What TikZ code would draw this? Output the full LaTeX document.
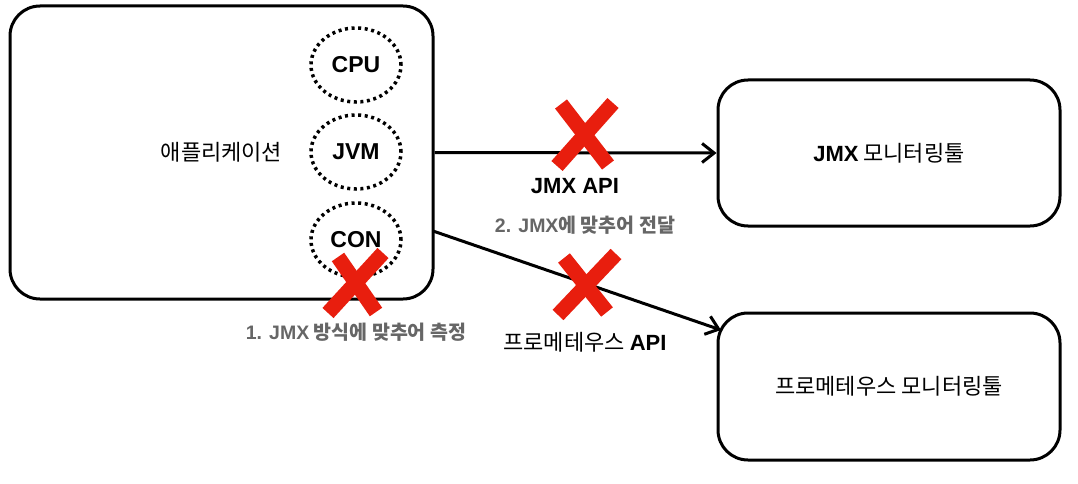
\documentclass[tikz,border=0pt]{standalone}
\usepackage{fontspec}
\setmainfont{Noto Sans CJK KR}
\newfontfamily\la{Liberation Sans}
\newfontfamily\lab{Liberation Sans Bold}
\usetikzlibrary{arrows.meta,shapes.geometric}
\definecolor{xred}{RGB}{232,30,14}
\definecolor{lgray}{RGB}{102,102,102}
\newcommand{\latb}[1]{{\lab #1}}
\begin{document}
\begin{tikzpicture}[x=1pt,y=-1pt,
  box/.style={draw, line width=3pt, rounded corners=30pt, inner sep=0pt, font=\fontsize{22}{26}\selectfont},
  dotell/.style={draw, ellipse, line width=3.5pt, dash pattern=on 3pt off 3.6pt, minimum width=90pt, minimum height=74pt, inner sep=0pt, font=\lab\fontsize{23}{27}\selectfont},
  lbl/.style={inner sep=0pt, font=\fontsize{22}{26}\selectfont},
  glbl/.style={inner sep=0pt, text=lgray, font=\bfseries\fontsize{19.5}{23}\selectfont},
  arr/.style={line width=3pt, -{Straight Barb[length=12pt,width=19pt,line width=3pt]}},
  xmark/.style={draw=xred, line width=15pt}
]
\useasboundingbox (0,0) rectangle (1078,484);
% boxes
\node[box, minimum width=423pt, minimum height=293pt] (app) at (221.5,152.5) {애플리케이션};
\node[box, minimum width=342pt, minimum height=146pt] (jmx) at (889,153) {\latb{JMX} 모니터링툴};
\node[box, minimum width=342pt, minimum height=147pt] (prom) at (889,386.5) {프로메테우스 모니터링툴};
% dotted ellipses
\node[dotell] (cpu) at (356,65) {CPU};
\node[dotell] (jvm) at (356,152) {JVM};
\node[dotell] (con) at (356,240) {CON};
% connectors
\draw[arr] (app.east) -- (jmx.west);
\coordinate (a2s) at (433,231);
\coordinate (a2e) at (721,330);
\draw[arr] (a2s) -- (a2e);
% labels
\node[lbl] (l1) at (575,186) {\latb{JMX API}};
\node[glbl] (l2) at (585,225) {\latb{2. JMX}에 맞추어 전달};
\node[glbl] (l3) at (356,332) {\latb{1. JMX} 방식에 맞추어 측정};
\node[lbl] (l4) at (585,342) {프로메테우스 \latb{API}};
% red crosses
\draw[xmark] (561,104) -- (608,165);
\draw[xmark] (613,103) -- (557,166);
\draw[xmark] (338,257) -- (376,312);
\draw[xmark] (383,253) -- (328,313);
\draw[xmark] (564,258) -- (607,312);
\draw[xmark] (616,254) -- (558,315);
\end{tikzpicture}
\end{document}
